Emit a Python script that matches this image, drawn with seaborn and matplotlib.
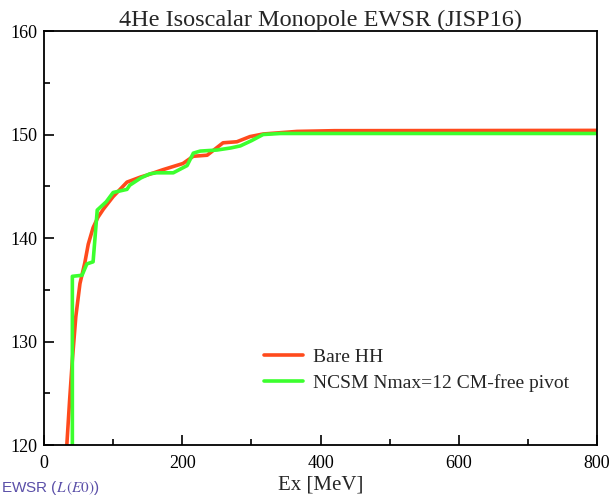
import matplotlib
matplotlib.use("Agg")
import matplotlib.pyplot as plt
from matplotlib.ticker import MultipleLocator
import seaborn as sns
import pandas as pd

# Cumulative isoscalar monopole energy-weighted sum rule vs excitation energy
bare_hh_ex = [32, 33, 37, 41, 46, 52, 59, 64, 71, 78, 86, 100, 120, 140, 150,
              172, 201, 216, 236, 259, 279, 298, 317, 366, 420, 800]
bare_hh_sum = [118.5, 120.0, 124.3, 128.2, 132.4, 135.6, 137.6, 139.4, 141.0,
               142.0, 142.8, 144.0, 145.4, 145.9, 146.1, 146.6, 147.2, 147.9,
               148.0, 149.2, 149.3, 149.8, 150.05, 150.3, 150.37, 150.4]

ncsm_ex = [41, 41, 55, 62, 71, 77, 90, 100, 120, 124, 140, 153, 163, 187,
           207, 216, 226, 250, 270, 284, 300, 317, 342, 800]
ncsm_sum = [118.5, 136.3, 136.4, 137.5, 137.7, 142.7, 143.5, 144.4, 144.7,
            145.1, 145.8, 146.2, 146.3, 146.3, 147.0, 148.2, 148.4, 148.5,
            148.7, 148.9, 149.4, 150.0, 150.1, 150.1]

series_labels = ["Bare HH", "NCSM Nmax=12 CM-free pivot"]
series_colors = ["#ff4a1c", "#3cff2e"]

sns.set_theme(style="white")
plt.rcParams["font.family"] = ["Liberation Serif", "DejaVu Serif"]
plt.rcParams["mathtext.fontset"] = "stix"

fig = plt.figure(figsize=(6.13, 4.98), dpi=100)
ax = fig.add_axes([0.0718, 0.1064, 0.9021, 0.8313])

bare = pd.DataFrame({"Ex": bare_hh_ex, "EWSR": bare_hh_sum})
ncsm = pd.DataFrame({"Ex": ncsm_ex, "EWSR": ncsm_sum})

sns.lineplot(data=bare, x="Ex", y="EWSR", ax=ax, estimator=None, sort=False,
             color=series_colors[0], lw=2.6, label=series_labels[0])
sns.lineplot(data=ncsm, x="Ex", y="EWSR", ax=ax, estimator=None, sort=False,
             color=series_colors[1], lw=2.6, label=series_labels[1])

ax.set_xlim(0, 800)
ax.set_ylim(120, 160)
ax.xaxis.set_major_locator(MultipleLocator(200))
ax.xaxis.set_minor_locator(MultipleLocator(100))
ax.yaxis.set_major_locator(MultipleLocator(10))
ax.yaxis.set_minor_locator(MultipleLocator(5))
ax.tick_params(which="both", direction="in", top=False, right=False,
               bottom=True, left=True, colors="black", labelsize=13)
ax.tick_params(which="major", length=7, width=1.2)
ax.tick_params(which="minor", length=4.5, width=1.2)
ax.tick_params(axis="x", pad=7)
ax.tick_params(axis="y", pad=5)
for s in ax.spines.values():
    s.set_color("black")
    s.set_linewidth(1.3)

ax.set_xlabel("Ex [MeV]", fontsize=15, labelpad=3)
ax.set_ylabel("")
ax.set_title("4He Isoscalar Monopole EWSR (JISP16)", fontsize=17.5, pad=2)

ax.legend(loc="center left", bbox_to_anchor=(0.381, 0.181), frameon=False,
          fontsize=14, handlelength=2.0, borderpad=0, labelspacing=0.4,
          handletextpad=0.5)

fig.text(0.002, 0.003, r"EWSR ($L\,(E0)$)", color="#5a4fa8", fontsize=11,
         family=["Liberation Sans", "DejaVu Sans"], va="bottom", ha="left")

fig.savefig("out.png", dpi=100)
